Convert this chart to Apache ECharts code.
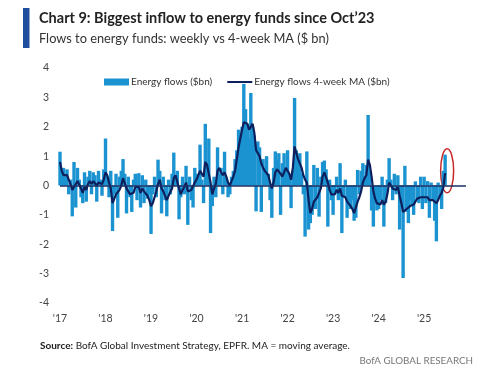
<!DOCTYPE html>
<html><head><meta charset="utf-8">
<script src="https://cdn.jsdelivr.net/npm/echarts@6/dist/echarts.min.js"></script>
<style>html,body{margin:0;padding:0;background:#fff}#c{width:486px;height:378px}</style>
</head><body><div id="c"></div>
<script>
// Bi-weekly periods starting Jan 2017
const startYear = 2017;
const periodsPerYear = 26;
const yTicks = [-4, -3, -2, -1, 0, 1, 2, 3, 4];
const xTickYears = [2017, 2018, 2019, 2020, 2021, 2022, 2023, 2024, 2025];

const flows2017 = [1.15,0.5,0.6,0.3,0.55,-0.3,0.2,-1.05,0.8,-0.75,0.6,0.2,-0.4,-0.6,0.45,-0.55,0.3,0.5,-0.3,0.45,0.35,-0.55,0.5,0.2,-0.35,0.55];
const flows2018 = [1.6,0.3,-0.4,0.5,-1.55,-0.3,0.4,-1.1,0.3,0.5,0.9,0.4,-0.95,0.3,-0.4,-0.9,0.2,0.4,-0.5,0.42,-0.75,0.35,-0.6,0.2,-0.45,-0.3];
const flows2019 = [-1.65,-0.3,0.3,-0.4,0.88,0.5,-0.95,0.3,-0.5,-1.05,0.2,-0.3,0.4,1.12,0.3,0.5,-1.15,-0.4,0.3,-0.3,0.67,-1.34,0.3,-0.5,-0.75,0.6];
const flows2020 = [0.4,0.3,1.39,0.2,-0.6,2.1,0.5,1.6,-1.62,-0.7,0.3,-0.4,1.3,0.4,0.6,-0.3,1.15,0.2,-0.4,-0.3,0.3,0.5,0.9,1.2,1.9,1.5];
const flows2021 = [2.0,3.46,2.6,2.1,1.6,3.15,2.0,1.7,-0.88,1.5,1.3,-0.9,0.9,0.6,1.0,0.4,-0.5,-1.1,0.6,1.16,0.88,1.1,-1.0,0.76,1.1,0.5];
const flows2022 = [1.2,0.3,-0.77,0.5,2.98,1.2,0.9,1.1,0.4,-0.3,-1.74,1.16,-1.5,-1.28,-1.0,0.7,-0.8,0.6,-1.06,0.3,0.8,0.85,0.55,-1.4,0.2,-0.5];
const flows2023 = [-1.0,-0.3,0.3,-0.5,0.76,-1.62,-0.4,0.2,-1.1,-0.6,-0.8,-0.5,-1.2,-1.1,0.53,-0.3,0.5,0.76,0.3,0.7,2.4,0.5,-0.85,-1.4,-0.6,-0.85];
const flows2024 = [-0.8,-0.5,0.3,-1.4,-0.6,0.2,0.93,0.2,-0.5,0.4,-0.3,0.35,-1.5,-0.6,-3.15,0.67,-0.9,-1.28,-0.5,-0.7,-1.0,0.14,-0.5,-0.6,0.3,-0.8];
const flows2025 = [0.3,-0.6,0.15,-1.1,0.1,-0.5,-1.2,-1.9,0.1,-0.4,-0.8,0.5,1.05];

const ma2017 = [0.8,0.5,0.35,0.3,0.35,0.2,0.05,-0.15,-0.05,-0.1,0.15,0.1,-0.1,-0.25,-0.05,-0.15,0.05,0.15,0.05,0.15,0.2,0.0,0.1,0.15,0.05,0.2];
const ma2018 = [0.45,0.35,0.1,-0.1,-0.6,-0.55,-0.3,-0.35,-0.15,0.0,0.25,0.2,-0.1,-0.2,-0.3,-0.35,-0.25,-0.05,-0.1,-0.05,-0.25,-0.1,-0.2,-0.15,-0.35,-0.5];
const ma2019 = [-0.7,-0.6,-0.4,-0.2,0.05,0.2,-0.1,-0.2,-0.35,-0.5,-0.35,-0.3,-0.1,0.25,0.35,0.3,-0.1,-0.3,-0.15,-0.05,0.1,-0.2,-0.25,-0.15,-0.1,0.1];
const ma2020 = [0.2,0.25,0.5,0.4,0.3,0.8,0.7,0.65,0.1,-0.3,-0.1,0.05,0.5,0.6,0.45,0.35,0.45,0.3,0.1,0.0,0.15,0.3,0.5,0.9,1.3,1.6];
const ma2021 = [1.9,2.15,2.2,2.1,1.9,2.0,2.1,1.8,1.2,1.1,1.0,0.75,0.6,0.5,0.55,0.35,0.1,-0.1,0.1,0.45,0.55,0.5,0.4,0.3,0.45,0.6];
const ma2022 = [0.65,0.4,0.2,0.6,1.33,1.1,0.9,0.75,0.6,0.35,0.2,0.1,-0.5,-0.94,-0.8,-0.55,-0.5,-0.4,-0.45,-0.1,0.3,0.45,0.48,0.1,-0.15,-0.3];
const ma2023 = [-0.3,-0.3,-0.15,-0.25,-0.1,-0.35,-0.4,-0.4,-0.55,-0.6,-0.7,-0.8,-0.94,-0.9,-0.55,-0.4,-0.2,0.1,0.25,0.35,0.88,0.7,0.3,-0.2,-0.45,-0.6];
const ma2024 = [-0.6,-0.65,-0.5,-0.65,-0.55,-0.3,0.1,0.05,-0.1,-0.05,-0.15,-0.05,-0.35,-0.6,-0.9,-0.85,-0.8,-0.75,-0.7,-0.65,-0.65,-0.55,-0.45,-0.5,-0.4,-0.45];
const ma2025 = [-0.4,-0.45,-0.4,-0.5,-0.45,-0.5,-0.55,-0.6,-0.5,-0.35,-0.25,-0.05,0.42];

const flows = [].concat(flows2017,flows2018,flows2019,flows2020,flows2021,flows2022,flows2023,flows2024,flows2025);
const ma = [].concat(ma2017,ma2018,ma2019,ma2020,ma2021,ma2022,ma2023,ma2024,ma2025);
const dates = flows.map((_, i) => startYear + i / periodsPerYear);

const chart = echarts.init(document.getElementById('c'), null, {renderer: 'canvas'});
const FONT = 'Lato';
const BAR = '#1B93D1';
const NAVY = '#0D1F5C';
chart.setOption({
  animation: false,
  backgroundColor: '#ffffff',
  grid: {left: 60, right: 20, top: 68, bottom: 75, containLabel: false},
  legend: {
    left: 99, top: 72, itemGap: 15, itemWidth: 25, itemHeight: 7,
    textStyle: {fontFamily: FONT, fontSize: 10, color: '#333', padding: [0,0,0,-3]},
    data: [
      {name: 'Energy flows ($bn)', icon: 'rect', itemStyle: {color: BAR}},
      {name: 'Energy flows 4-week MA ($bn)', icon: 'path://M0,0L0,0M0,2.5H25V4.5H0ZM25,7L25,7', itemStyle: {color: NAVY}}
    ]
  },
  xAxis: {
    type: 'value', min: 2017, max: 2025.92, interval: 1,
    axisLine: {show: false}, axisTick: {show: false}, splitLine: {show: false},
    axisLabel: {
      margin: 10, fontFamily: FONT, fontSize: 10.5, color: '#444',
      formatter: v => xTickYears.indexOf(v) >= 0 ? "'" + String(v).slice(2) : ''
    }
  },
  yAxis: {
    type: 'value', min: yTicks[0], max: yTicks[yTicks.length - 1], interval: 1,
    axisLine: {show: false}, axisTick: {show: false}, splitLine: {show: false},
    axisLabel: {margin: 11, fontFamily: FONT, fontSize: 10.5, color: '#444'}
  },
  series: [
    {
      name: 'Energy flows ($bn)', type: 'bar', barWidth: 3.4,
      itemStyle: {color: BAR},
      data: dates.map((d, i) => [d, flows[i]]),
      markLine: {
        silent: true, symbol: 'none', label: {show: false},
        lineStyle: {color: '#1B2F63', width: 1.5, type: 'solid'},
        data: [{yAxis: 0}]
      }
    },
    {
      name: 'Energy flows 4-week MA ($bn)', type: 'line', symbol: 'none',
      lineStyle: {color: NAVY, width: 2.2},
      itemStyle: {color: NAVY},
      data: dates.map((d, i) => [d, ma[i]])
    }
  ]
});

const lastIdx = dates.length - 1;
const ctr = chart.convertToPixel({gridIndex: 0}, [dates[lastIdx], 0.5]);
chart.setOption({
  graphic: [
    {type: 'rect', left: 23, top: 8, shape: {width: 6.5, height: 40}, style: {fill: '#1F4E9E'}},
    {type: 'text', left: 39, top: 11, style: {text: "Chart 9: Biggest inflow to energy funds since Oct\u201923", font: 'bold 14.5px ' + FONT, fill: '#222'}},
    {type: 'text', left: 39, top: 32, style: {text: 'Flows to energy funds: weekly vs 4-week MA ($ bn)', font: '12.8px ' + FONT, fill: '#333'}},
    {type: 'text', left: 40, top: 341, style: {
      text: '{b|Source:} BofA Global Investment Strategy, EPFR. MA = moving average.',
      font: '10px ' + FONT, fill: '#222',
      rich: {b: {fontWeight: 'bold', fontFamily: FONT, fontSize: 10, fill: '#222'}}
    }},
    {type: 'text', right: 13, top: 356, style: {text: 'BofA GLOBAL RESEARCH', font: '9.8px ' + FONT, fill: '#777'}},
    {type: 'ellipse', shape: {cx: ctr[0] + 2, cy: ctr[1], rx: 6.5, ry: 22}, style: {fill: 'none', stroke: '#C62828', lineWidth: 1.5}}
  ]
});
</script></body></html>
